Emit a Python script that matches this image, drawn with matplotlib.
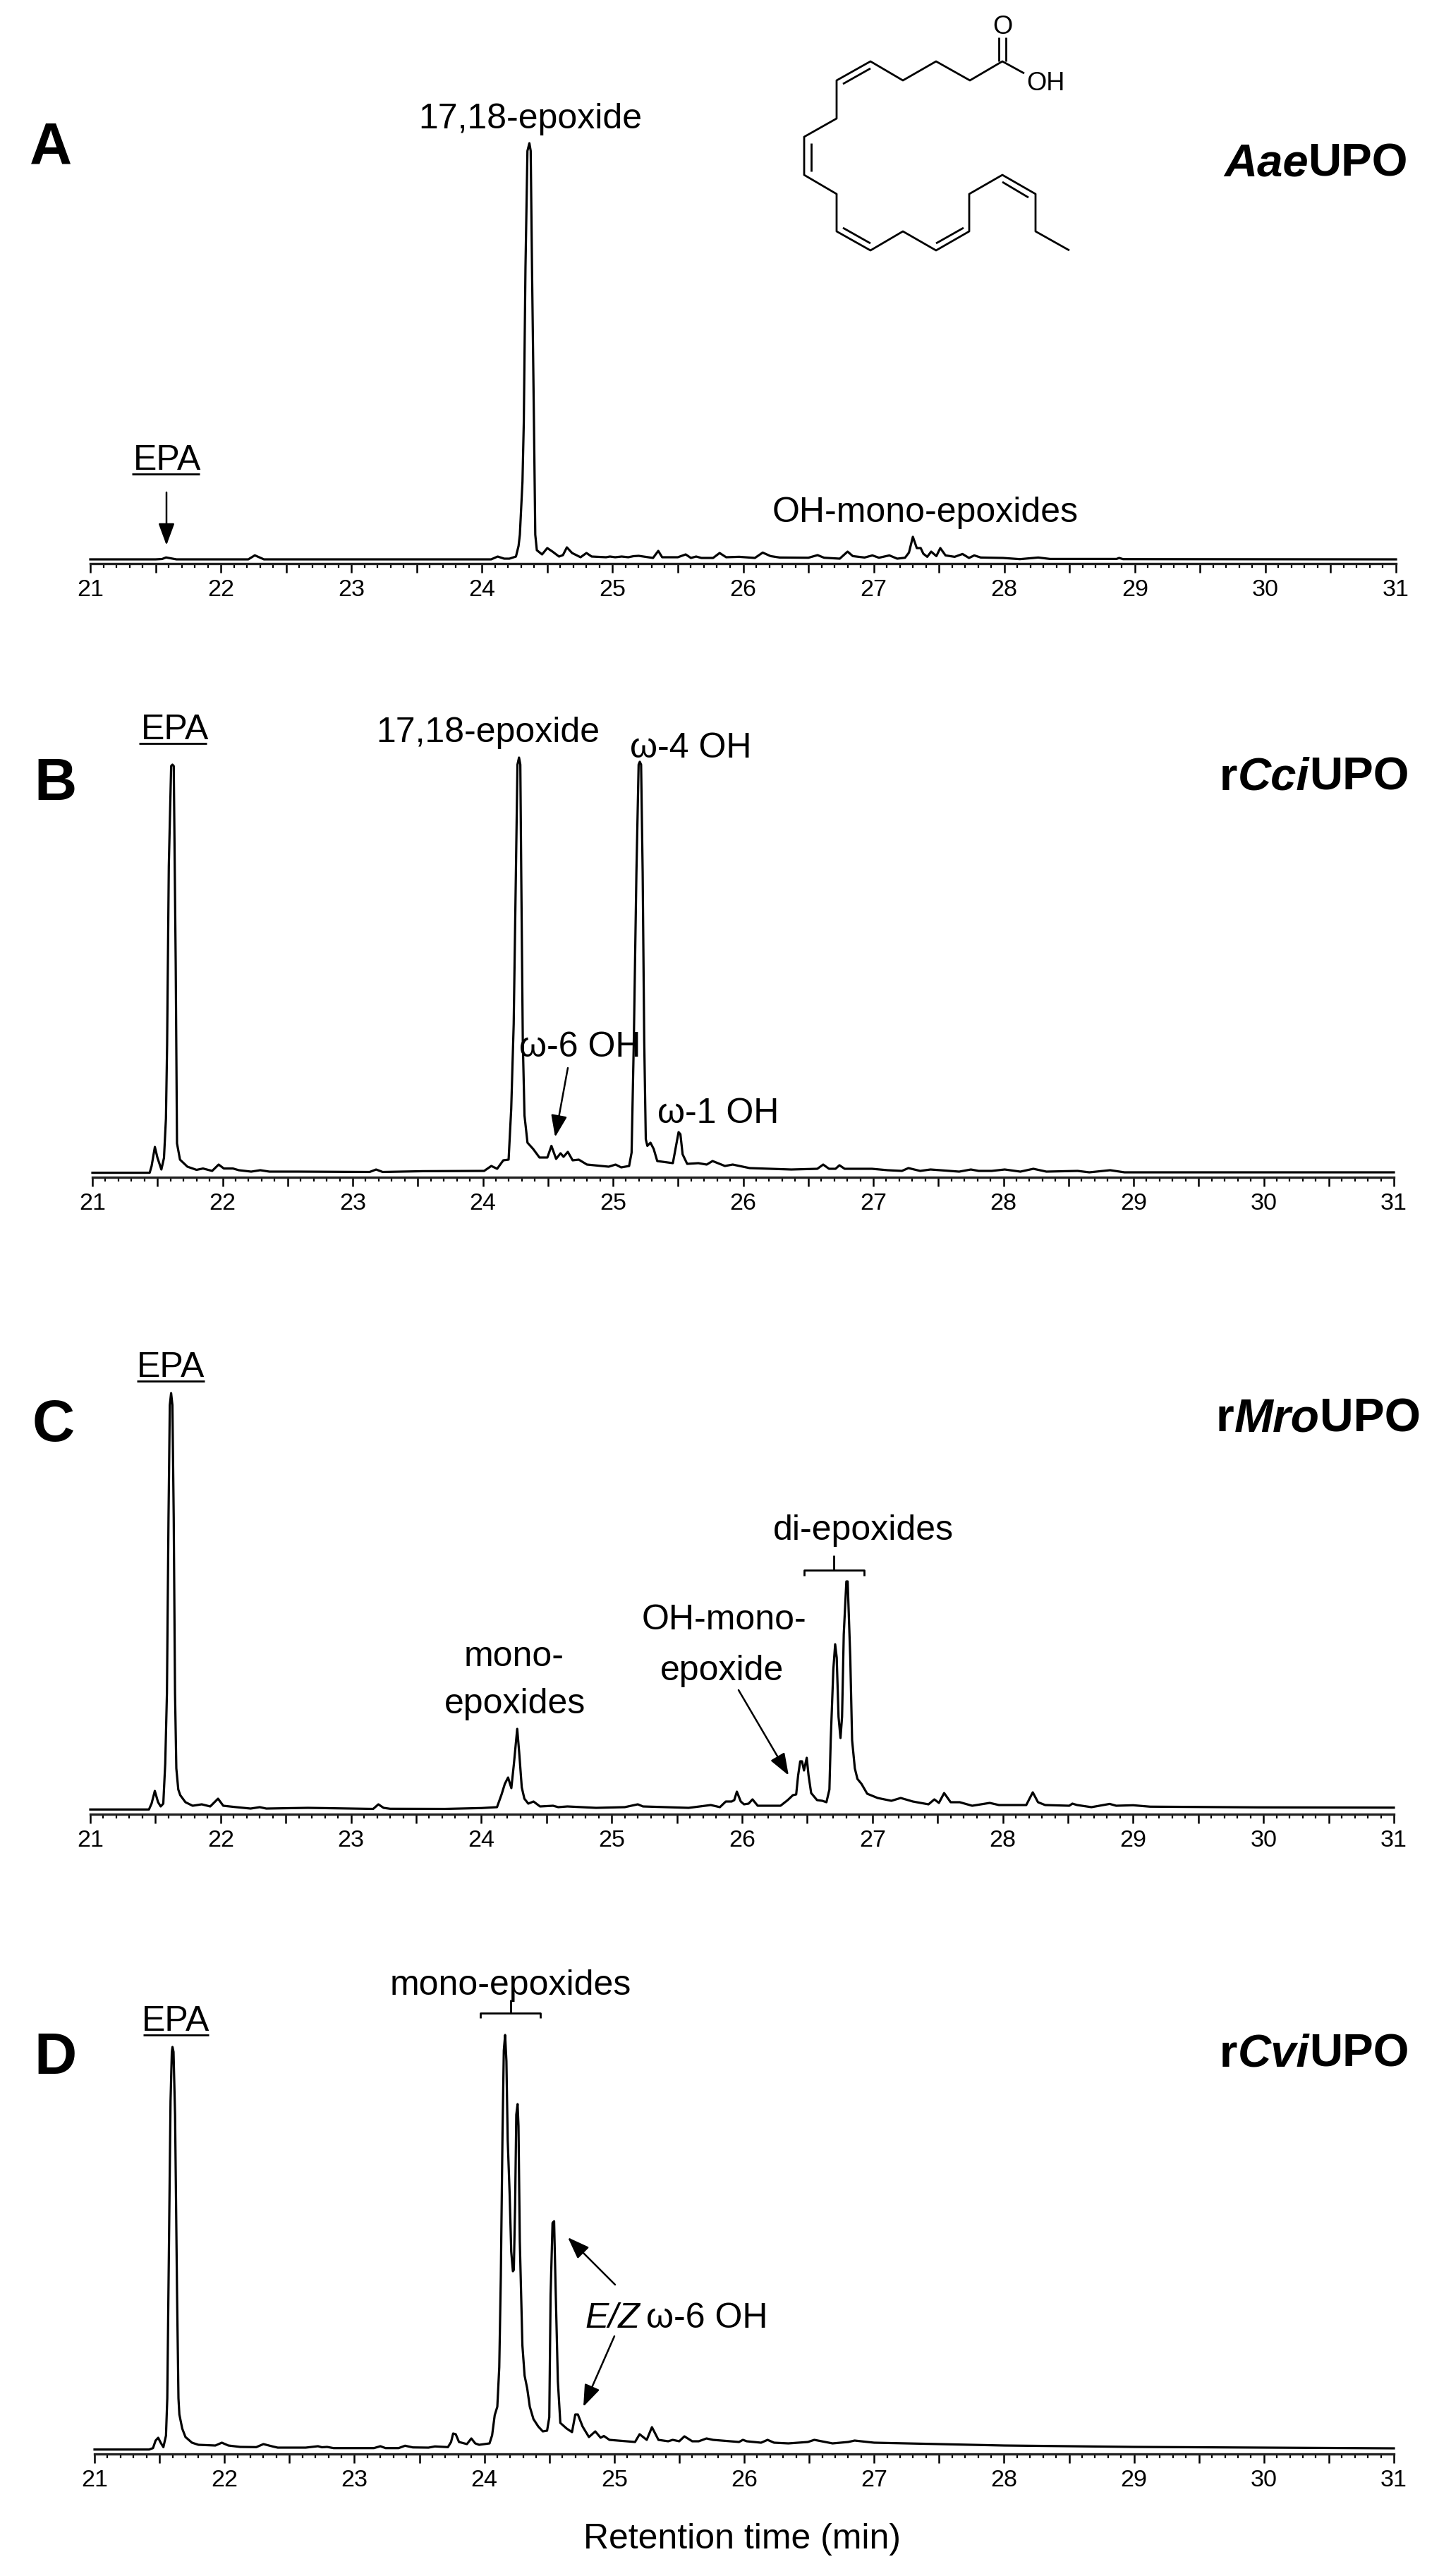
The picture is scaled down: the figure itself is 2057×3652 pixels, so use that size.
import matplotlib
matplotlib.use('Agg')
import matplotlib.pyplot as plt
from matplotlib.lines import Line2D
from matplotlib.patches import FancyArrowPatch
from matplotlib.transforms import Affine2D

W, H = 2057, 3652
SANS = ['Liberation Sans', 'DejaVu Sans']

# traces: retention time (min) and signal
a_time = [21.0, 21.5, 21.55, 21.58, 21.66, 22.21, 22.26, 22.33, 23.0, 24.07, 24.12, 24.17, 24.21, 24.26, 24.28, 24.29,
          24.31, 24.32, 24.333, 24.348, 24.363, 24.373, 24.383, 24.398, 24.408, 24.42, 24.46, 24.50, 24.54, 24.59, 24.62,
          24.65, 24.69, 24.755, 24.80, 24.84, 24.95, 24.98, 25.02, 25.07, 25.12, 25.16, 25.20, 25.31, 25.35, 25.38,
          25.50, 25.56, 25.60, 25.64, 25.68, 25.77, 25.82, 25.87, 25.97, 26.09, 26.15, 26.21, 26.28, 26.50, 26.57,
          26.62, 26.74, 26.80, 26.84, 26.93, 26.99, 27.04, 27.12, 27.18, 27.24, 27.27, 27.30, 27.33, 27.36, 27.38,
          27.41, 27.44, 27.48, 27.51, 27.55, 27.62, 27.68, 27.73, 27.77, 27.82, 27.99, 28.12, 28.26, 28.35, 28.86,
          28.88, 28.91, 31.0]
a_signal = [6, 6, 6.5, 8.7, 6, 6, 11.7, 6, 6, 6, 10, 7, 7, 10, 25, 41,
            116, 199, 420, 585, 596, 585, 420, 199, 41, 19, 13, 22, 17, 10, 12,
            23, 15, 9, 15, 10, 9, 10, 9, 10, 9, 10.5, 11, 8, 18, 9,
            9, 13, 8, 10, 8, 8, 15, 9, 9.6, 8, 15.6, 10.6, 8.6, 8.3, 12,
            8.3, 7, 17, 10.6, 8.6, 11.6, 8.3, 11.6, 7, 8.3, 15.6, 38, 22, 22, 14,
            9.6, 17, 10.6, 22, 11.6, 9.6, 13.6, 8, 11.6, 8.6, 8, 6.3, 8.6, 6.6, 6.6,
            8, 6.3, 6]

b_time = [21.0, 21.44, 21.455, 21.48, 21.50, 21.53, 21.55, 21.565, 21.574, 21.587, 21.605, 21.615, 21.625, 21.64,
          21.65, 21.673, 21.73, 21.80, 21.85, 21.92, 21.97, 22.01, 22.08, 22.125, 22.22, 22.29, 22.36, 22.58,
          23.13, 23.18, 23.23, 23.54, 24.01, 24.065, 24.11, 24.157, 24.198, 24.218, 24.237, 24.254, 24.266, 24.278,
          24.288, 24.295, 24.307, 24.32, 24.343, 24.387, 24.435, 24.496, 24.527, 24.563, 24.597, 24.62, 24.653, 24.69,
          24.737, 24.80, 24.967, 25.02, 25.063, 25.124, 25.143, 25.16, 25.18, 25.197, 25.206, 25.216, 25.228, 25.24,
          25.252, 25.264, 25.288, 25.313, 25.34, 25.46, 25.48, 25.504, 25.518, 25.535, 25.57, 25.656, 25.72, 25.765,
          25.86, 25.92, 26.05, 26.37, 26.57, 26.615, 26.66, 26.71, 26.74, 26.78, 26.99, 27.11, 27.22, 27.27, 27.36,
          27.44, 27.66, 27.75, 27.81, 27.91, 28.01, 28.13, 28.23, 28.33, 28.57, 28.66, 28.82, 28.93, 31.0]
b_signal = [6.4, 6.4, 16, 43, 27.5, 11, 27.5, 83, 188, 441, 583, 585, 583, 303,
            48, 25, 15, 10.5, 12.4, 9, 18, 12.4, 12.4, 10, 8, 10, 8, 8,
            7.5, 11, 7.5, 8.6, 9, 16, 12, 24, 25, 97, 217, 432, 585, 595,
            585, 432, 193, 87.6, 49, 40, 28, 28, 44.5, 26, 34, 29, 36, 24,
            25, 18, 15, 18, 14, 16, 35, 193, 432, 585, 589, 585, 432, 193,
            54, 44.5, 49, 40, 23, 20, 40, 64, 61, 32.5, 19, 20, 18, 23,
            16, 18, 13, 11, 12, 18, 12, 12, 17, 12, 12, 10, 9, 13, 9,
            11, 8, 11, 9, 9, 11, 8, 12, 8, 9, 7, 10, 7, 7]

c_time = [21.0, 21.45, 21.47, 21.495, 21.52, 21.54, 21.56, 21.575, 21.588, 21.60, 21.61, 21.62, 21.63, 21.64, 21.65,
          21.66, 21.675, 21.69, 21.73, 21.785, 21.855, 21.92, 21.98, 22.02, 22.12, 22.23, 22.30, 22.35, 22.67, 23.17,
          23.21, 23.25, 23.30, 23.72, 24.0, 24.12, 24.155, 24.18, 24.205, 24.23, 24.25, 24.275, 24.29, 24.31, 24.33,
          24.36, 24.40, 24.45, 24.55, 24.59, 24.66, 24.88, 25.10, 25.20, 25.24, 25.59, 25.76, 25.83, 25.875, 25.92,
          25.94, 25.96, 25.99, 26.015, 26.05, 26.08, 26.12, 26.295, 26.35, 26.39, 26.415, 26.43, 26.446, 26.46, 26.475,
          26.496, 26.51, 26.53, 26.575, 26.616, 26.647, 26.67, 26.68, 26.70, 26.714, 26.726, 26.74, 26.755, 26.767,
          26.78, 26.80, 26.81, 26.83, 26.844, 26.865, 26.885, 26.916, 26.96, 27.04, 27.145, 27.217, 27.31, 27.43,
          27.475, 27.51, 27.55, 27.60, 27.67, 27.765, 27.90, 27.97, 28.18, 28.23, 28.27, 28.325, 28.51, 28.534, 28.57,
          28.68, 28.82, 28.87, 29.0, 29.13, 29.96, 31.0]
c_signal = [6.7, 6.7, 15, 33, 17, 11, 15, 72, 172, 420, 580, 597, 580, 420, 172,
            65, 35, 27, 17, 12, 14, 11, 22, 12, 10, 8, 10, 8, 9, 7.5,
            14, 9, 7.7, 7.5, 8.7, 10, 28, 43, 52, 37, 72, 121, 88, 38, 22,
            15, 18, 11, 12, 10, 11, 9, 10, 14, 11, 9, 13, 10, 18, 18,
            20, 32, 18, 14, 15, 21, 12, 12, 20, 27, 28, 55, 75, 75, 62,
            80, 55, 30, 20, 19, 17, 35, 105, 205, 241, 222, 138, 108, 138,
            255, 330, 330, 222, 105, 65, 50, 43, 29, 23, 19, 23, 18, 14,
            21, 16, 30, 17, 17, 12, 16, 13, 13, 31, 17, 13, 12, 15, 13,
            10, 14.6, 12, 12.7, 10.7, 9.7, 9.3]

d_time = [21.0, 21.42, 21.45, 21.47, 21.49, 21.51, 21.53, 21.55, 21.56, 21.57, 21.585, 21.595, 21.60, 21.608, 21.62,
          21.635, 21.646, 21.653, 21.675, 21.70, 21.75, 21.80, 21.93, 21.98, 22.03, 22.12, 22.245, 22.30, 22.37, 22.41,
          22.625, 22.72, 22.75, 22.79, 22.84, 23.15, 23.20, 23.24, 23.34, 23.39, 23.45, 23.57, 23.62, 23.72, 23.744,
          23.76, 23.78, 23.805, 23.866, 23.90, 23.93, 23.96, 24.04, 24.06, 24.08, 24.10, 24.115, 24.127, 24.14, 24.15,
          24.16, 24.17, 24.18, 24.195, 24.207, 24.22, 24.227, 24.237, 24.246, 24.256, 24.263, 24.273, 24.293, 24.31,
          24.33, 24.35, 24.378, 24.415, 24.45, 24.483, 24.50, 24.51, 24.525, 24.537, 24.55, 24.566, 24.585, 24.634,
          24.675, 24.70, 24.72, 24.756, 24.805, 24.854, 24.895, 24.92, 24.963, 25.16, 25.195, 25.25, 25.29, 25.34,
          25.415, 25.45, 25.50, 25.54, 25.60, 25.65, 25.71, 25.76, 25.96, 25.99, 26.02, 26.13, 26.18, 26.23, 26.34,
          26.49, 26.54, 26.68, 26.80, 26.85, 27.0, 27.5, 28.0, 28.5, 29.0, 30.0, 31.0]
d_signal = [6.3, 6.3, 8.3, 19, 23, 15.7, 9.7, 26, 79, 250, 500, 570, 577, 570, 480,
            230, 79, 56, 36, 24, 16, 13, 12, 16, 12, 10, 9.7, 14, 10.7, 9,
            9, 11, 9.5, 10, 8.3, 8.3, 11, 8.3, 8.3, 11.7, 9.3, 9, 10.7, 9.7, 17,
            29, 28, 17, 14, 22, 15, 13, 15, 26.5, 55, 67, 123, 251, 455, 572,
            594, 557, 445, 368, 287, 259, 261, 353, 481, 496, 465, 302, 154, 111,
            93, 67, 49.5, 39, 32, 33, 52, 225, 327.5, 330, 225, 103, 44, 36,
            31, 56, 56, 39, 24, 32, 23, 25.5, 20, 17, 28, 20, 38, 20,
            18, 20, 18, 25, 18, 18, 22, 20, 17, 20, 18, 16, 20, 16, 15,
            17, 20, 15, 17, 19, 16, 14, 12, 11, 10, 9, 8]

panels = [('A', a_time, a_signal), ('B', b_time, b_signal), ('C', c_time, c_signal), ('D', d_time, d_signal)]
major_ticks = [21 + 0.5 * i for i in range(21)]
minor_ticks = [21 + 0.1 * i for i in range(101)]
hour_labels = ['21', '', '22', '', '23', '', '24', '', '25', '', '26', '', '27', '', '28', '', '29', '', '30', '', '31']

# left pixel, right pixel and pixel row of each time axis
axis_box = {'A': (128, 1979, 799), 'B': (131, 1976, 1669), 'C': (128, 1976, 2572), 'D': (134, 1976, 3479)}

fig = plt.figure(figsize=(W / 100, H / 100), dpi=100, facecolor='white')
px = Affine2D().scale(1 / W, -1 / H).translate(0, 1) + fig.transFigure

for name, times, signal in panels:
    x0, x1, ya = axis_box[name]
    h = 680
    ax = fig.add_axes([x0 / W, 1 - ya / H, (x1 - x0) / W, h / H])
    ax.patch.set_alpha(0)
    ax.plot(times, signal, color='black', lw=2.3, solid_joinstyle='round', clip_on=False)
    ax.set_xlim(21, 31)
    ax.set_ylim(0, h)
    for s in ['top', 'right', 'left']:
        ax.spines[s].set_visible(False)
    ax.spines['bottom'].set_linewidth(2.4)
    ax.spines['bottom'].set_color('#222222')
    ax.set_yticks([])
    ax.set_xticks(major_ticks)
    ax.set_xticks(minor_ticks, minor=True)
    ax.set_xticklabels(hour_labels)
    ax.tick_params(axis='x', which='major', length=9.5, width=1.8, pad=6, labelsize=24.5,
                   labelfontfamily='Liberation Sans')
    ax.tick_params(axis='x', which='minor', length=4.5, width=1.6)


def label(x, y, s, size=36, ha='center', weight='normal', style='normal'):
    return fig.text(x, y, s, transform=px, fontsize=size, ha=ha, va='baseline', weight=weight, style=style,
                    family=SANS, color='black')


def line(xs, ys, lw=2.0):
    fig.add_artist(Line2D(xs, ys, transform=px, color='black', lw=lw, solid_capstyle='butt'))


def arrow(start, tip):
    fig.add_artist(FancyArrowPatch(start, tip, transform=px, arrowstyle='-|>,head_length=0.38,head_width=0.14',
                                   mutation_scale=50, lw=1.8, color='black', shrinkA=0, shrinkB=0))


# text pieces set one after the other on one baseline
def pieces(x, y, parts, size):
    r = fig.canvas.get_renderer()
    for s, st, gap in parts:
        t = label(x, y, s, size=size, ha='left', weight=st[0], style=st[1])
        x += t.get_window_extent(r).width + gap


def bracket(x0, x1, xs, ystem, ytop, ybot):
    line([x0, x0, x1, x1], [ybot, ytop, ytop, ybot])
    line([xs, xs], [ystem, ytop])


BI = ('bold', 'italic')
BN = ('bold', 'normal')
N = ('normal', 'normal')
I = ('normal', 'italic')

# panel letters and enzyme names
label(42, 233, 'A', size=60, ha='left', weight='bold')
label(48, 1134, 'B', size=60, ha='left', weight='bold')
label(46, 2043, 'C', size=60, ha='left', weight='bold')
label(48, 2940, 'D', size=60, ha='left', weight='bold')
pieces(1735, 250, [('Aae', BI, 0), ('UPO', BN, 0)], 47)
pieces(1729, 1120, [('r', BN, 0), ('Cci', BI, 0), ('UPO', BN, 0)], 47)
pieces(1724, 2029, [('r', BN, 0), ('Mro', BI, 0), ('UPO', BN, 0)], 47.5)
pieces(1729, 2930, [('r', BN, 0), ('Cvi', BI, 0), ('UPO', BN, 0)], 47)

# A
label(237, 666, 'EPA')
line([187, 283], [672, 672])
arrow((236, 698), (236, 773))
label(752, 182, '17,18-epoxide')
label(1312, 740, 'OH-mono-epoxides')

# B
label(248, 1048, 'EPA')
line([197, 293], [1054, 1054])
label(692, 1052, '17,18-epoxide')
label(979, 1074, 'ω-4 OH')
label(822, 1498, 'ω-6 OH')
arrow((805, 1514), (787, 1612))
label(1018, 1592, 'ω-1 OH')

# C
label(242, 1952, 'EPA')
line([194, 290], [1958, 1958])
label(729, 2362, 'mono-')
label(730, 2429, 'epoxides')
label(1224, 2183, 'di-epoxides')
bracket(1140, 1225, 1182, 2205, 2226, 2234)
label(1027, 2310, 'OH-mono-')
label(1024, 2382, 'epoxide')
arrow((1047, 2396), (1118, 2517))

# D
label(249, 2879, 'EPA')
line([203, 296], [2885, 2885])
label(724, 2828, 'mono-epoxides')
bracket(681, 766, 724, 2835, 2854, 2861)
arrow((872, 3239), (805, 3172))
arrow((871, 3312), (827, 3412))
pieces(829, 3300, [('E/Z', I, 9), ('ω-6 OH', N, 0)], 36)
label(1052, 3613, 'Retention time (min)', size=36)

# EPA structure, top right of panel A, in pixels of the page
chain_x = [1516, 1468, 1468, 1421, 1374, 1374, 1327, 1280, 1234, 1186, 1186, 1140, 1140, 1186, 1186, 1234, 1280, 1327,
           1375, 1421, 1452]
chain_y = [355, 328, 275, 248, 275, 328, 355, 328, 355, 328, 275, 248, 194, 168, 114, 87, 114, 87, 114, 87, 104]
line(chain_x, chain_y)
line([1421, 1458], [258, 280])
line([1366, 1327], [323, 345])
line([1195, 1234], [323, 345])
line([1150, 1150], [203, 243])
line([1195, 1234], [119, 97])
line([1416, 1416], [87, 53])
line([1426, 1426], [87, 53])
label(1421, 48, 'O', size=26)
label(1482, 128, 'OH', size=26)

fig.savefig('out.png', dpi=100)
